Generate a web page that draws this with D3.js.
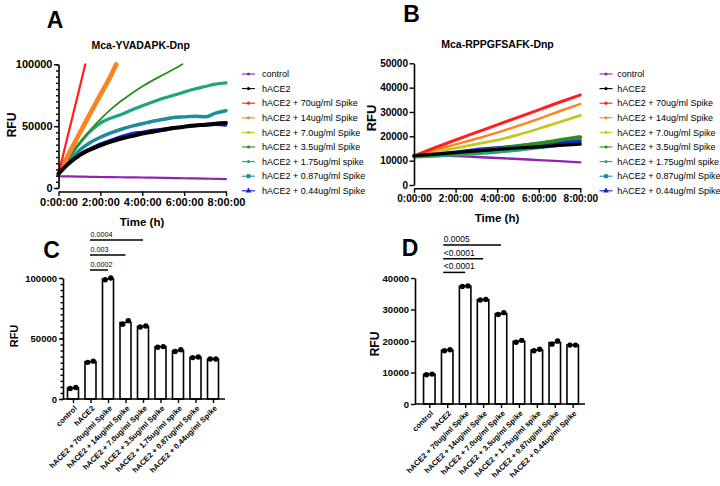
<!DOCTYPE html>
<html><head><meta charset="utf-8">
<script src="https://cdn.jsdelivr.net/npm/d3@7"></script>
<style>body{margin:0;background:#fff}svg{display:block}text{font-family:"Liberation Sans",Arial,sans-serif}</style>
</head><body>
<script>
// ---------- DATA ----------
const seriesNames = ["control","hACE2","hACE2 + 70ug/ml Spike","hACE2 + 14ug/ml Spike","hACE2 + 7.0ug/ml Spike","hACE2 + 3.5ug/ml Spike","hACE2 + 1.75ug/ml spike","hACE2 + 0.87ug/ml Spike","hACE2 + 0.44ug/ml Spike"];
const timeTickLabels = ["0:00:00","2:00:00","4:00:00","6:00:00","8:00:00"];
const timeTicks = [0,2,4,6,8];

// Panel A (Mca-YVADAPK-Dnp), time in hours
const tA = [0,0.5,1,1.5,2,2.5,3,3.5,4,4.5,5,5.5,6,6.5,7,7.5,8];
const aControl = [9500,9350,9200,9050,8900,8800,8700,8600,8500,8350,8200,8050,7900,7750,7600,7400,7200];
const aBlack   = [11500,20000,26500,31000,34500,37500,40000,42000,44000,45500,47000,48500,49500,50500,51200,52000,52500];
const tRed = [0,0.5,1,1.28];
const aRed = [11500,46000,80500,100000];
const tOrange = [0,0.5,1,1.5,2,2.5,2.75];
const aOrange = [11500,28000,44000,60000,75500,91000,100000];
const tYellow = [0,0.5,1,1.5,2,2.5,2.82];
const aYellow = [11500,27000,42500,58000,73500,89000,100000];
const tGreen = [0,0.5,1,1.5,2,2.5,3,3.5,4,4.5,5,5.5,5.92];
const aGreen = [11500,24500,36000,46500,55500,63500,70500,76500,82000,87000,91500,96000,100000];
const aSea  = [11500,25000,36000,45500,52500,56500,59500,63000,66500,69500,72500,75000,77500,80000,82000,84000,85000];
const aTeal = [11500,22000,30500,36500,41000,44500,47500,50000,52000,54000,55500,57000,57500,58000,57500,60500,62500];
const aBlue = [11500,20500,27500,32000,36000,39000,42000,44500,45500,47000,48000,49000,49500,50000,50500,51000,50500];

// Panel B (Mca-RPPGFSAFK-Dnp)
const tB = [0,1,2,3,4,5,6,7,8];
const bControl = [12000,12200,11900,11500,11100,10700,10200,9800,9300];
const bBlack   = [12000,12700,13300,14000,14600,15200,15700,16300,16800];
const bRed     = [12000,15300,18500,21600,24700,27800,30900,34000,37000];
const bOrange  = [12000,14300,16700,19000,21500,24300,27200,30300,33300];
const bYellow  = [12000,13500,15100,16800,18400,20600,23100,25800,28600];
const bGreen   = [12000,12500,13100,13900,14800,15900,17100,18400,19700];
const bSea     = [11500,11900,12400,12900,13500,14300,15300,16500,17800];
const bTeal    = [12000,12700,13400,14200,15200,16200,17200,18100,18900];
const bBlue    = [12000,12800,13600,14700,15400,16000,16700,17400,18000];

// Panel C / D end-point bars (two replicates)
const cRep1 = [8700,30300,98500,61800,59500,42800,39300,34200,33000];
const cRep2 = [9500,31300,100000,64800,60300,43300,40700,34700,33000];
const dRep1 = [9300,16900,37300,33000,28400,19600,16900,19000,18700];
const dRep2 = [9500,17200,37500,33200,29000,20200,17400,20000,18700];
const cSigTo = [4,3,2];   const cSigLabels = ["0.0004","0.003","0.0002"];
const dSigTo = [4,3,2];   const dSigLabels = ["0.0005","<0.0001","<0.0001"];

// ---------- STYLE ----------
const colors = ["#8e24b4","#000000","#ff1f1f","#ff8222","#c5c81e","#2b8c1f","#21a67a","#1b8d9f","#1c1cd0"];
const markers = ["circle","circle","circle","circle","circle","circle","circle","square","triangle"];
const fmt = d3.format("d");

const svg = d3.select("body").append("svg").attr("width",720).attr("height",486);
const FONT = '"Liberation Sans",Arial,sans-serif';

function styleAxis(g, size){
  g.selectAll("text").attr("font-family",FONT).attr("font-size",size).attr("font-weight","bold").attr("fill","#000");
  g.selectAll("line").attr("stroke","#000").attr("stroke-width",1.4);
  g.selectAll("path").attr("stroke","#000").attr("stroke-width",1.6);
}
function txt(x,y,s,size,opts={}){
  const t = svg.append("text").attr("x",x).attr("y",y).text(s)
    .attr("font-size",size).attr("font-weight",opts.weight||"bold")
    .attr("text-anchor",opts.anchor||"middle").attr("fill","#000");
  if(opts.rotate) t.attr("transform",`rotate(${opts.rotate},${x},${y})`);
  return t;
}

// ---------- PANEL A ----------
const xA = d3.scaleLinear().domain([0,8]).range([58.5,226]);
const yA = d3.scaleLinear().domain([0,100000]).range([188,64.3]);
const seriesA = [
  [tA,aControl],[tA,aBlack],[tRed,aRed],[tOrange,aOrange],[tYellow,aYellow],[tGreen,aGreen],[tA,aSea],[tA,aTeal],[tA,aBlue]
];
const widthA = [2.2,4,2.2,4.5,2.5,1.8,3.2,3.5,2.2];
const drawOrder = [0,8,7,6,5,4,3,2,1];
drawOrder.forEach(i=>{
  const [t,v] = seriesA[i];
  const pts = t.map((d,k)=>[d,v[k]]);
  svg.append("path").datum(pts)
    .attr("d",d3.line().x(d=>xA(d[0])).y(d=>yA(d[1])).curve(d3.curveMonotoneX))
    .attr("fill","none").attr("stroke",colors[i]).attr("stroke-width",widthA[i]).attr("stroke-linecap","round");
});
// axes A
let g = svg.append("g").attr("transform","translate(58.5,0)")
  .call(d3.axisLeft(yA).tickValues(d3.range(0,100001,5000)).tickSize(2.5).tickFormat(""));
g.select(".domain").remove(); styleAxis(g,11);
g = svg.append("g").attr("transform","translate(58.5,0)")
  .call(d3.axisLeft(yA).tickValues([0,50000,100000]).tickFormat(fmt).tickSize(4.5).tickPadding(1.5).tickSizeOuter(0));
styleAxis(g,11);
g = svg.append("g").attr("transform","translate(0,191.5)")
  .call(d3.axisBottom(xA).tickValues(timeTicks).tickFormat((d,i)=>timeTickLabels[i]).tickSize(4.5).tickPadding(2).tickSizeOuter(0));
styleAxis(g,11);
txt(140.7,49,"Mca-YVADAPK-Dnp",10.5);
txt(55,28,"A",23);
txt(15.5,125,"RFU",12,{rotate:-90});
txt(142,226,"Time (h)",11.5);

// ---------- PANEL B ----------
const xB = d3.scaleLinear().domain([0,8]).range([414,580.3]);
const yB = d3.scaleLinear().domain([0,50000]).range([185,63.3]);
const seriesB = [bControl,bBlack,bRed,bOrange,bYellow,bGreen,bSea,bTeal,bBlue];
const widthB = [2.4,3.2,3,2.4,2.8,3.8,3.2,3,2.6];
const drawOrderB = [0,6,7,8,5,4,3,2,1];
drawOrderB.forEach(i=>{
  const pts = tB.map((d,k)=>[d,seriesB[i][k]]);
  svg.append("path").datum(pts)
    .attr("d",d3.line().x(d=>xB(d[0])).y(d=>yB(d[1])).curve(d3.curveMonotoneX))
    .attr("fill","none").attr("stroke",colors[i]).attr("stroke-width",widthB[i]).attr("stroke-linecap","round");
});
g = svg.append("g").attr("transform","translate(414,0)")
  .call(d3.axisLeft(yB).ticks(5).tickFormat(fmt).tickSize(4.5).tickPadding(1.5).tickSizeOuter(0));
styleAxis(g,10);
g = svg.append("g").attr("transform","translate(0,188.3)")
  .call(d3.axisBottom(xB).tickValues(timeTicks).tickFormat((d,i)=>timeTickLabels[i]).tickSize(4.5).tickPadding(2).tickSizeOuter(0));
styleAxis(g,10);
txt(497.5,47.5,"Mca-RPPGFSAFK-Dnp",10.5);
txt(411.5,22,"B",23);
txt(375.5,118,"RFU",13,{rotate:-90});
txt(497,222,"Time (h)",11.5);

// ---------- LEGENDS ----------
function legend(x0,textX){
  seriesNames.forEach((name,i)=>{
    const y = 74 + i*14.6;
    svg.append("line").attr("x1",x0).attr("x2",x0+13).attr("y1",y).attr("y2",y)
      .attr("stroke",colors[i]).attr("stroke-width",1.1);
    const cx = x0+6.5;
    if(markers[i]==="circle") svg.append("circle").attr("cx",cx).attr("cy",y).attr("r",1.6).attr("fill",colors[i]);
    else if(markers[i]==="square") svg.append("rect").attr("x",cx-2).attr("y",y-2).attr("width",4).attr("height",4).attr("fill",colors[i]);
    else svg.append("path").attr("d",d3.symbol(d3.symbolTriangle,14)()).attr("transform",`translate(${cx},${y})`).attr("fill",colors[i]);
    svg.append("text").attr("x",textX).attr("y",y+3.2).text(name).attr("font-size",9).attr("fill","#000");
  });
}
legend(242,262);
legend(599.5,617.3);

// ---------- BAR PANELS ----------
function barPanel(o){
  const x = d3.scalePoint().domain(seriesNames).range(o.xr);
  const y = d3.scaleLinear().domain([0,o.max]).range(o.yr);
  const y0 = o.yr[0];
  seriesNames.forEach((c,i)=>{
    const m = (o.r1[i]+o.r2[i])/2;
    svg.append("rect").attr("x",x(c)-o.bw/2).attr("y",y(m)).attr("width",o.bw).attr("height",y0-y(m))
      .attr("fill","#fff").attr("stroke","#000").attr("stroke-width",1.6);
  });
  seriesNames.forEach((c,i)=>{
    [[o.r1[i],-2.8],[o.r2[i],2.8]].forEach(([v,dx])=>{
      svg.append("circle").attr("cx",x(c)+dx).attr("cy",y(v)).attr("r",2.7).attr("fill","#000");
    });
  });
  if(o.minor){
    const gm = svg.append("g").attr("transform",`translate(${o.ax},0)`)
      .call(d3.axisLeft(y).tickValues(d3.range(0,o.max+1,o.minor)).tickSize(2.5).tickFormat(""));
    gm.select(".domain").remove(); styleAxis(gm,9.5);
  }
  const gy = svg.append("g").attr("transform",`translate(${o.ax},0)`)
    .call(d3.axisLeft(y).tickValues(o.yticks).tickFormat(fmt).tickSize(4).tickPadding(2).tickSizeOuter(0));
  styleAxis(gy,o.yfs);
  const gx = svg.append("g").attr("transform",`translate(0,${y0})`)
    .call(d3.axisBottom(x).tickSize(4).tickFormat(""));
  gx.select(".domain").attr("d",`M${o.ax},0H${o.axEnd}`);
  styleAxis(gx,8);
  seriesNames.forEach(c=>{
    const tx = x(c)+2.5, ty = y0+8;
    svg.append("text").attr("x",tx).attr("y",ty).attr("dy","0.35em").text(c)
      .attr("font-size",7.6).attr("font-weight","bold").attr("text-anchor","end")
      .attr("transform",`rotate(-45,${tx},${ty})`).attr("fill","#000");
  });
  o.sigTo.forEach((to,k)=>{
    const ly = o.sigY + k*o.sigStep;
    svg.append("line").attr("x1",x(seriesNames[1])+o.sigDx).attr("x2",x(seriesNames[to])).attr("y1",ly).attr("y2",ly)
      .attr("stroke","#000").attr("stroke-width",1.5);
    svg.append("text").attr("x",x(seriesNames[1])+o.sigDx+0.5).attr("y",ly-3).text(o.sigLabels[k])
      .attr("font-size",o.sigFs).attr("fill","#000");
  });
}
barPanel({xr:[73,213],yr:[399,278],max:100000,yticks:[0,50000,100000],minor:5000,ax:63,axEnd:225,bw:11,yfs:9.5,
  r1:cRep1,r2:cRep2,sigTo:cSigTo,sigLabels:cSigLabels,sigY:240,sigStep:15,sigFs:7.2,sigDx:-0.5});
barPanel({xr:[429.3,572.7],yr:[404,278],max:40000,yticks:[0,10000,20000,30000,40000],minor:0,ax:415,axEnd:585,bw:11.5,yfs:9.5,
  r1:dRep1,r2:dRep2,sigTo:dSigTo,sigLabels:dSigLabels,sigY:245,sigStep:13.7,sigFs:8.5,sigDx:-4});
txt(51.5,258,"C",23);
txt(410,256,"D",23);
txt(18,336,"RFU",11,{rotate:-90});
txt(378.5,344,"RFU",12,{rotate:-90});
</script>
</body></html>
